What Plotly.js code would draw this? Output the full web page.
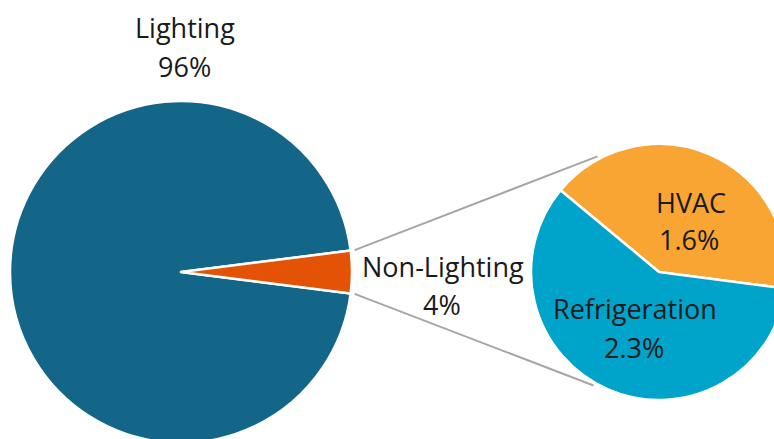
<!DOCTYPE html>
<html>
<head>
<meta charset="utf-8">
<script src="https://cdn.plot.ly/plotly-3.0.1.min.js"></script>
<style>
  html, body { margin: 0; padding: 0; overflow: hidden; background: #ffffff; }
  #chart { width: 800px; height: 460px; }
</style>
</head>
<body>
<div id="chart"></div>
<script>
// Energy use breakdown: main split and the detail of the smaller part
const categories = ['Lighting', 'Non-Lighting'];
const shares = [96, 4];
const subCategories = ['HVAC', 'Refrigeration'];
const subShares = [1.6, 2.3];

const mainColors = ['#136687', '#E35205'];
const subColors = ['#F8A534', '#00A3C9'];

// Canvas geometry (pixels); the chart is slightly larger than the window so
// the edges of both pies run off the frame.
const W = 800, H = 460;
const main = { cx: 181, cy: 272, r: 171 };
const sub = { cx: 659, cy: 272, r: 128 };

function domainOf(p) {
  return {
    x: [(p.cx - p.r) / W, (p.cx + p.r) / W],
    y: [(H - p.cy - p.r) / H, (H - p.cy + p.r) / H]
  };
}

// In counterclockwise mode the first slice ends at the rotation angle,
// so rotation = 90 - (start + sweep of first slice), in degrees.
const mainTotal = shares.reduce((a, b) => a + b, 0);
const halfSmall = shares[1] / mainTotal * 180;       // half-angle of the exploded wedge
const mainStart = halfSmall;                          // Lighting starts just above 3 o'clock
const mainRotation = 90 - (mainStart + shares[0] / mainTotal * 360);

const subTotal = subShares.reduce((a, b) => a + b, 0);
const subStart = -7.4;                                // HVAC starts just below 3 o'clock
const subRotation = 90 - (subStart + subShares[0] / subTotal * 360);

const traces = [
  {
    type: 'pie',
    values: shares,
    labels: categories,
    sort: false,
    direction: 'counterclockwise',
    rotation: mainRotation,
    domain: domainOf(main),
    marker: { colors: mainColors, line: { color: '#ffffff', width: 2.5 } },
    textinfo: 'none',
    hoverinfo: 'label+percent',
    showlegend: false
  },
  {
    type: 'pie',
    values: subShares,
    labels: subCategories,
    sort: false,
    direction: 'counterclockwise',
    rotation: subRotation,
    domain: domainOf(sub),
    marker: { colors: subColors, line: { color: '#ffffff', width: 2.5 } },
    textinfo: 'none',
    hoverinfo: 'label+value',
    showlegend: false
  }
];

// Connector lines from the exploded wedge to the detail pie
function pt(p, angDeg, extra) {
  const a = angDeg * Math.PI / 180;
  const rr = p.r + extra;
  return [(p.cx + rr * Math.cos(a)) / W, 1 - (p.cy - rr * Math.sin(a)) / H];
}
const lineStyle = { color: '#A6A6A6', width: 2 };
const upA = pt(main, halfSmall, 4), upB = pt(sub, 118, 3);
const loA = pt(main, -halfSmall, 4), loB = pt(sub, -120, 3);
const shapes = [
  { type: 'line', xref: 'paper', yref: 'paper', x0: upA[0], y0: upA[1], x1: upB[0], y1: upB[1], line: lineStyle, layer: 'below' },
  { type: 'line', xref: 'paper', yref: 'paper', x0: loA[0], y0: loA[1], x1: loB[0], y1: loB[1], line: lineStyle, layer: 'below' }
];

// Label placement (pixel centres of the name line and the value line)
const textFont = { family: 'Open Sans, sans-serif', size: 27, color: '#1a1a1a' };
function ann(text, x, y) {
  return {
    text: text, x: x / W, y: 1 - y / H, xref: 'paper', yref: 'paper',
    xanchor: 'center', yanchor: 'middle', showarrow: false, font: textFont
  };
}
const labelSpots = [
  { name: categories[0], value: shares[0], at: [185, 28], vat: [184, 66] },
  { name: categories[1], value: shares[1], at: [443, 266], vat: [442, 304] },
  { name: subCategories[0], value: subShares[0], at: [691, 202], vat: [689, 239] },
  { name: subCategories[1], value: subShares[1], at: [635, 308], vat: [634, 347] }
];
const annotations = [];
labelSpots.forEach(s => {
  annotations.push(ann(s.name, s.at[0], s.at[1]));
  annotations.push(ann(s.value + '%', s.vat[0], s.vat[1]));
});

const layout = {
  width: W,
  height: H,
  margin: { l: 0, r: 0, t: 0, b: 0 },
  paper_bgcolor: '#ffffff',
  plot_bgcolor: '#ffffff',
  showlegend: false,
  shapes: shapes,
  annotations: annotations
};

Plotly.newPlot('chart', traces, layout, { displayModeBar: false, staticPlot: true });
</script>
</body>
</html>
